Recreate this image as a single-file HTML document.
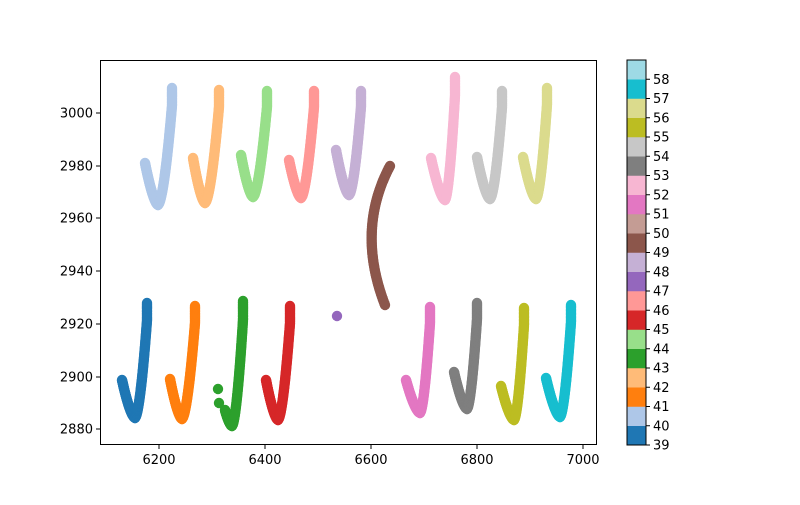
<!DOCTYPE html>
<html><head><meta charset="utf-8"><style>
html,body{margin:0;padding:0;background:#fff;}
svg text{font-family:"DejaVu Sans","Liberation Sans",sans-serif;font-size:13px;fill:#000;}
</style></head><body>
<svg id="s" width="800" height="500" xmlns="http://www.w3.org/2000/svg">
<rect width="800" height="500" fill="#fff"/>
<g id="pts"></g>
<rect x="100.5" y="60.5" width="496" height="384" fill="none" stroke="#000" stroke-width="1"/>
<g id="ax"></g>
<g id="cb"></g>
</svg>
<script>
var C=["#1f77b4","#aec7e8","#ff7f0e","#ffbb78","#2ca02c","#98df8a","#d62728","#ff9896","#9467bd","#c5b0d5","#8c564b","#c49c94","#e377c2","#f7b6d2","#7f7f7f","#c7c7c7","#bcbd22","#dbdb8d","#17becf","#9edae5"];
var NS="http://www.w3.org/2000/svg";
function el(t,a,p){var e=document.createElementNS(NS,t);for(var k in a)e.setAttribute(k,a[k]);document.getElementById(p).appendChild(e);return e;}
function dot(x,y,c){el("circle",{cx:x,cy:y,r:5.2,fill:c},"pts");}
function J(ci,xl,yl,xb,yb,xr,yr){
  var c=C[ci],i,v,u;
  for(i=0;i<=50;i++){v=i/50;var y=yb+(yl-yb)*v;var x=xb-(xb-xl)*Math.pow(v,0.65);dot(x,y,c);}
  for(i=0;i<=80;i++){u=i/80;var y=yb+(yr-yb)*u;var w=Math.min(u/0.85,1);var x=xb+(xr-xb)*Math.pow(w,0.6);dot(x,y,c);}
}
J(1,145,163,158,205,172,88);
J(3,193,158,205,203,219,90);
J(5,241,155,253,197,267,91);
J(7,289,160,301,198,314,91);
J(9,336,150,349,195,361,91);
J(13,431,158,445,200,455,77);
J(15,477,157,490,199,502,91);
J(17,523,157,536,199,547,88);
J(0,122,380,135,418,147,303);
J(2,170,379,182,419,195,306);
J(4,225,410,232,426,243,301);
dot(218,389,C[4]);dot(219,403,C[4]);
J(6,266,380,278,420,290,306);
dot(337,316,C[8]);
J(12,406,380,420,413,430,307);
J(14,454,372,467,409,477,303);
J(16,501,386,514,420,524,308);
J(18,546,378,560,417,571,305);
// brown curve (quadratic bezier)
for(var i=0;i<=90;i++){var t=i/90,a=(1-t)*(1-t),b=2*t*(1-t),c=t*t;
 dot(a*390+b*356+c*385, a*166+b*230+c*305, C[10]);}
// axes ticks
var xt=[[6200,159],[6400,265],[6600,371],[6800,477],[7000,583]];
xt.forEach(function(a){el("line",{x1:a[1],y1:445,x2:a[1],y2:449,stroke:"#000"},"ax");var t=el("text",{x:a[1],y:464,"text-anchor":"middle"},"ax");t.textContent=a[0];});
var yt=[[3000,113],[2980,166],[2960,218],[2940,271],[2920,324],[2900,377],[2880,429]];
yt.forEach(function(a){el("line",{x1:96,y1:a[1],x2:100,y2:a[1],stroke:"#000"},"ax");var t=el("text",{x:93,y:a[1]+4.5,"text-anchor":"end"},"ax");t.textContent=a[0];});
// colorbar
for(var k=0;k<20;k++){el("rect",{x:627,y:445-(k+1)*19.25,width:19,height:19.5,fill:C[k]},"cb");}
el("rect",{x:627,y:60,width:19,height:385,fill:"none",stroke:"#000"},"cb");
for(var v=39;v<=58;v++){var y=445-(v-39)*19.25;el("line",{x1:646,y1:y,x2:650,y2:y,stroke:"#000"},"cb");var t=el("text",{x:653,y:y+4.5},"cb");t.textContent=v;}
</script>
</body></html>
